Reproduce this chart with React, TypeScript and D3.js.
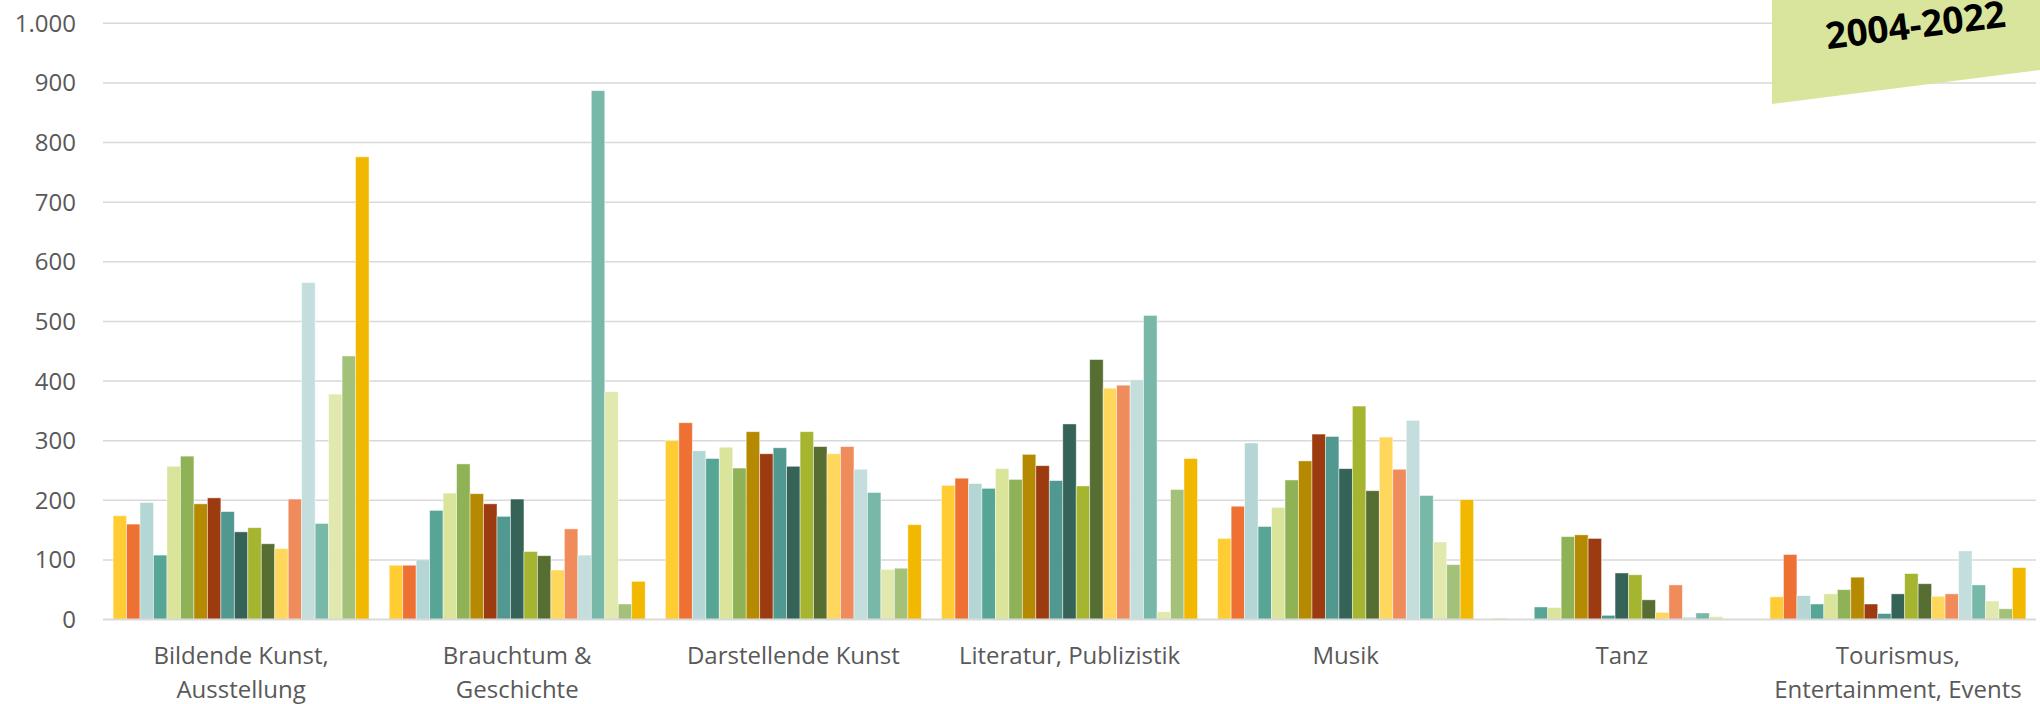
import React from "react";
import * as d3 from "d3";

// Förderfälle nach Sparte, je Jahr 2004-2022
const years = ["2004", "2005", "2006", "2007", "2008", "2009", "2010", "2011", "2012", "2013",
  "2014", "2015", "2016", "2017", "2018", "2019", "2020", "2021", "2022"];

const categories = [
  "Bildende Kunst, Ausstellung",
  "Brauchtum & Geschichte",
  "Darstellende Kunst",
  "Literatur, Publizistik",
  "Musik",
  "Tanz",
  "Tourismus, Entertainment, Events",
];

// label lines under the axis
const categoryLines = [
  ["Bildende Kunst,", "Ausstellung"],
  ["Brauchtum &", "Geschichte"],
  ["Darstellende Kunst"],
  ["Literatur, Publizistik"],
  ["Musik"],
  ["Tanz"],
  ["Tourismus,", "Entertainment, Events"],
];

const bildendeKunst = [174, 160, 196, 108, 257, 274, 194, 204, 181, 147, 154, 127, 119, 202, 565, 161, 378, 442, 776];
const brauchtum = [91, 91, 100, 183, 212, 261, 211, 194, 173, 202, 114, 107, 83, 152, 108, 887, 382, 26, 64];
const darstellendeKunst = [300, 330, 283, 270, 289, 254, 315, 278, 288, 257, 315, 290, 278, 290, 252, 213, 84, 86, 159];
const literatur = [225, 237, 228, 220, 253, 235, 277, 258, 233, 328, 224, 436, 388, 393, 402, 510, 13, 218, 270];
const musik = [136, 190, 296, 156, 188, 234, 266, 311, 307, 253, 358, 216, 306, 252, 334, 208, 130, 92, 201];
const tanz = [2, 0, 0, 21, 20, 139, 142, 136, 7, 78, 75, 33, 12, 58, 4, 11, 5, 0, 0];
const tourismus = [38, 109, 40, 26, 43, 50, 71, 26, 10, 43, 77, 60, 39, 43, 115, 58, 31, 18, 87];

const seriesByCategory = [bildendeKunst, brauchtum, darstellendeKunst, literatur, musik, tanz, tourismus];

const colors = [
  "#FFCD33", "#EE7032", "#B4D6D4", "#56A595", "#DAE49B", "#8FB256", "#B68A00", "#9C3B10",
  "#519891", "#356358", "#A5B530", "#566E32", "#FFD75C", "#F08C5C", "#C3DEDD", "#78B8A9",
  "#E1E9AF", "#A4C17A", "#F2B800",
];

const yTicks = [0, 100, 200, 300, 400, 500, 600, 700, 800, 900, 1000];

const W = 2040;
const H = 704;
const left = 103;
const right = 2036;
const top = 23.3;
const bottom = 619.5;

const de = d3.formatLocale({ decimal: ",", thousands: ".", grouping: [3], currency: ["", " €"] });
const fmt = de.format(",d");

export default function App() {
  const x0 = d3.scaleBand().domain(categories).range([left, right]).padding(0);
  const x1 = d3.scaleBand().domain(years).range([0, x0.bandwidth()]).paddingInner(0).paddingOuter(0.75);
  const y = d3.scaleLinear().domain([0, 1000]).range([bottom, top]);

  const font = "'Open Sans', sans-serif";
  const textColor = "#595959";

  return (
    <div>
      <style>{"body{margin:0;overflow:hidden}"}</style>
      <svg width={W} height={H} style={{ display: "block", background: "#fff" }}>
        {yTicks.map((t) => (
          <g key={t}>
            {t > 0 && (
              <line x1={left} x2={right} y1={y(t)} y2={y(t)} stroke="#D9D9D9" strokeWidth={1.5} />
            )}
            <text x={76} y={y(t) + 8.5} textAnchor="end" fontFamily={font} fontSize={24} fill={textColor}>
              {fmt(t)}
            </text>
          </g>
        ))}

        {categories.map((c, ci) => (
          <g key={c} transform={`translate(${x0(c)},0)`}>
            {seriesByCategory[ci].map((v, i) => (
              <rect
                key={years[i]}
                x={x1(years[i])}
                y={y(v)}
                width={x1.bandwidth()}
                height={bottom - y(v)}
                fill={colors[i]}
                stroke="#fff"
                strokeOpacity={0.55}
                strokeWidth={0.8}
              />
            ))}
          </g>
        ))}

        <line x1={left} x2={right} y1={bottom} y2={bottom} stroke="#D9D9D9" strokeWidth={2} />

        {categories.map((c, ci) => (
          <text
            key={c}
            x={(x0(c) as number) + x0.bandwidth() / 2}
            textAnchor="middle"
            fontFamily={font}
            fontSize={24}
            fill={textColor}
          >
            {categoryLines[ci].map((line, li) => (
              <tspan key={li} x={(x0(c) as number) + x0.bandwidth() / 2} y={664 + li * 34}>
                {line}
              </tspan>
            ))}
          </text>
        ))}

        <polygon points="1772,0 2040,0 2040,70 1772,104" fill="#D9E49C" />
        <text
          x={1917}
          y={38}
          transform="rotate(-7.2 1917 38)"
          textAnchor="middle"
          fontFamily={font}
          fontWeight={700}
          fontSize={37}
          fill="#000"
        >
          2004-2022
        </text>
      </svg>
    </div>
  );
}
